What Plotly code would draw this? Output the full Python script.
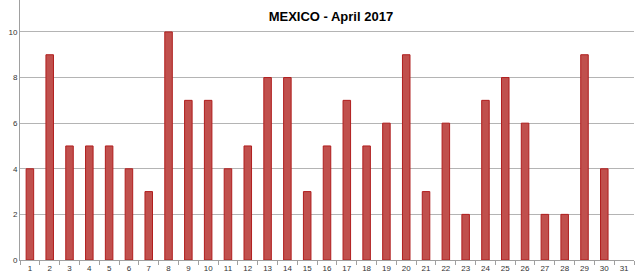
import plotly.graph_objects as go

days = [str(d) for d in range(1, 32)]
values = [4, 9, 5, 5, 5, 4, 3, 10, 7, 7, 4, 5, 8, 8, 3, 5, 7, 5, 6, 9,
          3, 6, 2, 7, 8, 6, 2, 2, 9, 4, 0]
y_ticks = [0, 2, 4, 6, 8, 10]
title = "MEXICO - April 2017"

line_widths = [1 if v > 0 else 0 for v in values]

fig = go.Figure(go.Bar(
    x=days, y=values,
    marker=dict(color="#C0504D", line=dict(color="#B01E1E", width=line_widths)),
    width=0.38,
))

fig.update_layout(
    width=640, height=276,
    margin=dict(l=20, r=6, t=0, b=16),
    paper_bgcolor="white", plot_bgcolor="white",
    showlegend=False,
    title=dict(text="<b>" + title + "</b>", x=0.517, xanchor="center",
               y=0.94, yanchor="middle",
               font=dict(family="Liberation Sans, Arial", size=13, color="#000")),
    font=dict(family="Liberation Sans, Arial", size=8, color="#404040"),
)
fig.update_xaxes(
    type="category", showgrid=False, showline=True, linecolor="#A0A0A0",
    linewidth=1, ticks="outside", tickson="boundaries", ticklen=4,
    tickcolor="#A0A0A0", tickfont=dict(size=8, color="#333"),
    automargin=False,
)
fig.update_yaxes(
    range=[0, 11.4], tickvals=y_ticks, showgrid=True, gridcolor="#B4B4B4",
    gridwidth=1, showline=True, linecolor="#A0A0A0", linewidth=1,
    ticks="", tickfont=dict(size=8, color="#333"), automargin=False,
    zeroline=False,
)

fig.write_html("out.html")
